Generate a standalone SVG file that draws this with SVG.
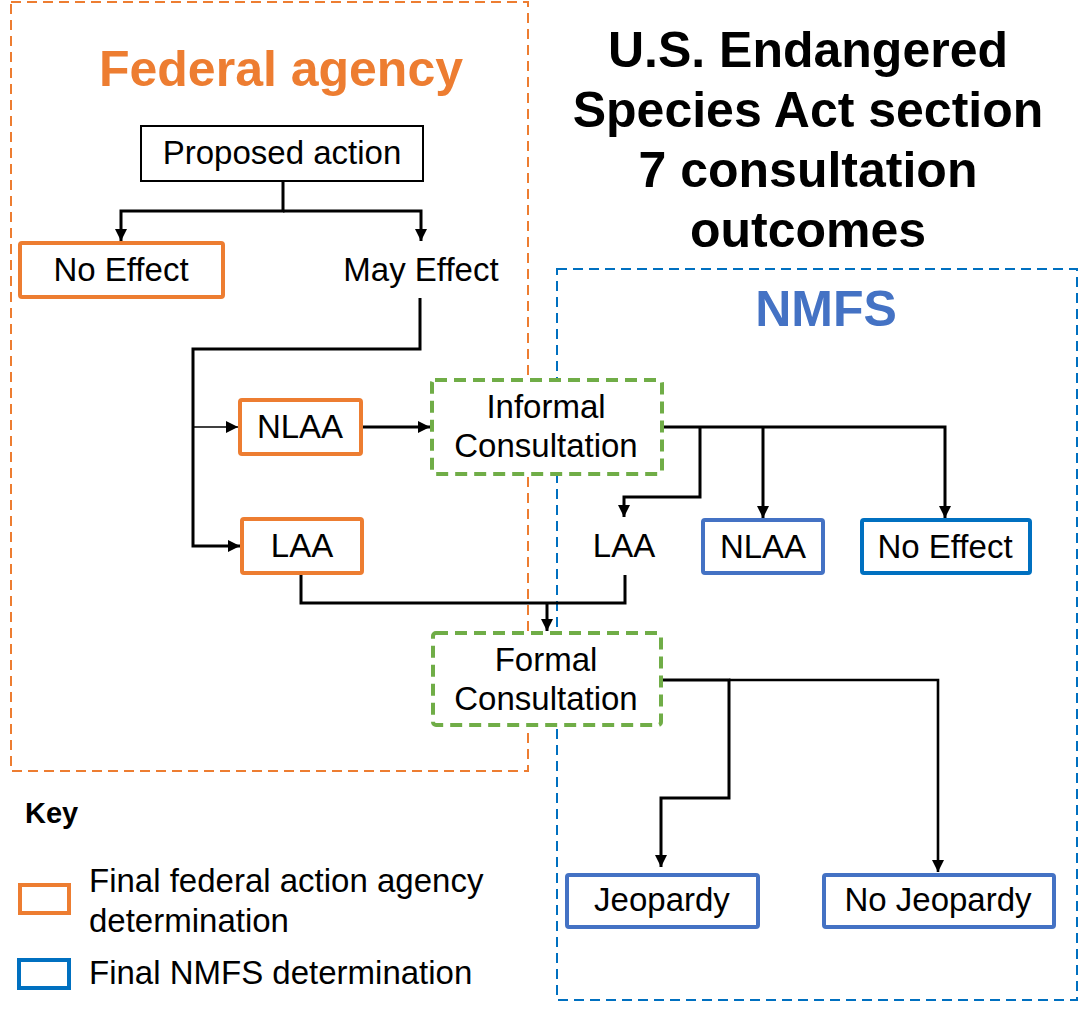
<svg xmlns="http://www.w3.org/2000/svg" width="1088" height="1014" viewBox="0 0 1088 1014">
<defs>
<marker id="arr" markerUnits="userSpaceOnUse" markerWidth="12" markerHeight="12" refX="12" refY="6" orient="auto">
<path d="M0,0 L12,6 L0,12 z" fill="#000"/>
</marker>
<style>
text{font-family:"Liberation Sans",Arial,sans-serif;fill:#000;text-anchor:middle}
.t{font-size:33px}
.h{font-size:50px;font-weight:bold}
.org{fill:#fff;stroke:#ED7D31;stroke-width:4}
.blu{fill:#fff;stroke:#4472C4;stroke-width:4}
.blu2{fill:#fff;stroke:#0070C0;stroke-width:4}
.grn{fill:#fff;stroke:#70AD47;stroke-width:4;stroke-dasharray:12 7}
.c{fill:none;stroke:#000;stroke-width:3}
.ca{fill:none;stroke:#000;stroke-width:3;marker-end:url(#arr)}
</style>
</defs>
<rect width="1088" height="1014" fill="#fff"/>
<g id="regions">
<rect x="11" y="2" width="517" height="769" fill="none" stroke="#ED7D31" stroke-width="2" stroke-dasharray="10 6"/>
<rect x="557" y="269" width="520" height="731" fill="none" stroke="#0070C0" stroke-width="2" stroke-dasharray="10 6"/>
</g>
<g id="titles">
<text class="h" x="281" y="86" style="fill:#ED7D31">Federal agency</text>
<text class="h" x="826" y="326" style="fill:#4472C4">NMFS</text>
<text class="h" x="808" y="67">U.S. Endangered</text>
<text class="h" x="808" y="127">Species Act section</text>
<text class="h" x="808" y="187">7 consultation</text>
<text class="h" x="808" y="247">outcomes</text>
</g>
<g id="connectors">
<path class="ca" d="M283,181 V211 H121 V241"/>
<path class="ca" d="M283,211 H421 V241"/>
<path class="ca" d="M420,298 V349 H193 V546 H240"/>
<path fill="none" stroke="#000" stroke-width="1.3" marker-end="url(#arr)" d="M193,427 H238"/>
<path class="ca" d="M363,427 H430"/>
<path class="ca" d="M663,427 H945 V518"/>
<path class="ca" d="M763,427 V518"/>
<path class="ca" d="M700,427 V497 H624 V517"/>
<path class="c" d="M301,575 V603 H625 V575"/>
<path class="ca" d="M547,603 V631"/>
<path class="ca" d="M663,680 H729 V798 H661 V867"/>
<path class="ca" d="M729,680 H938 V872" style="stroke-width:2.6"/>
</g>
<g id="proposed">
<rect x="141" y="126" width="282" height="55" fill="#fff" stroke="#000" stroke-width="2"/>
<text class="t" x="282" y="164">Proposed action</text>
</g>
<g id="noeffect-fa">
<rect class="org" x="20" y="243" width="203" height="54" rx="2"/>
<text class="t" x="121" y="281">No Effect</text>
</g>
<g id="mayeffect">
<text class="t" x="421" y="281">May Effect</text>
</g>
<g id="nlaa-fa">
<rect class="org" x="240" y="400" width="121" height="54" rx="2"/>
<text class="t" x="300" y="438">NLAA</text>
</g>
<g id="laa-fa">
<rect class="org" x="242" y="519" width="120" height="54" rx="2"/>
<text class="t" x="302" y="557">LAA</text>
</g>
<g id="informal">
<rect class="grn" x="432" y="380" width="230" height="94" rx="3"/>
<text class="t" x="546" y="418">Informal</text>
<text class="t" x="546" y="457">Consultation</text>
</g>
<g id="laa-nmfs">
<text class="t" x="624" y="557">LAA</text>
</g>
<g id="nlaa-nmfs">
<rect class="blu" x="703" y="520" width="120" height="53" rx="2"/>
<text class="t" x="763" y="558">NLAA</text>
</g>
<g id="noeffect-nmfs">
<rect class="blu2" x="862" y="520" width="168" height="53" rx="2"/>
<text class="t" x="945" y="558">No Effect</text>
</g>
<g id="formal">
<rect class="grn" x="433" y="633" width="228" height="92" rx="3"/>
<text class="t" x="546" y="671">Formal</text>
<text class="t" x="546" y="710">Consultation</text>
</g>
<g id="jeopardy">
<rect class="blu" x="567" y="875" width="191" height="52" rx="2"/>
<text class="t" x="662" y="911">Jeopardy</text>
</g>
<g id="nojeopardy">
<rect class="blu" x="824" y="875" width="230" height="52" rx="2"/>
<text class="t" x="938" y="911">No Jeopardy</text>
</g>
<g id="key">
<text x="25" y="823" style="font-size:29px;font-weight:bold;text-anchor:start">Key</text>
<rect x="20" y="885" width="49" height="28" fill="none" stroke="#ED7D31" stroke-width="4"/>
<text class="t" x="89" y="892" style="text-anchor:start">Final federal action agency</text>
<text class="t" x="89" y="932" style="text-anchor:start">determination</text>
<rect x="19" y="960" width="50" height="28" fill="none" stroke="#0070C0" stroke-width="4"/>
<text class="t" x="89" y="984" style="text-anchor:start">Final NMFS determination</text>
</g>
</svg>
